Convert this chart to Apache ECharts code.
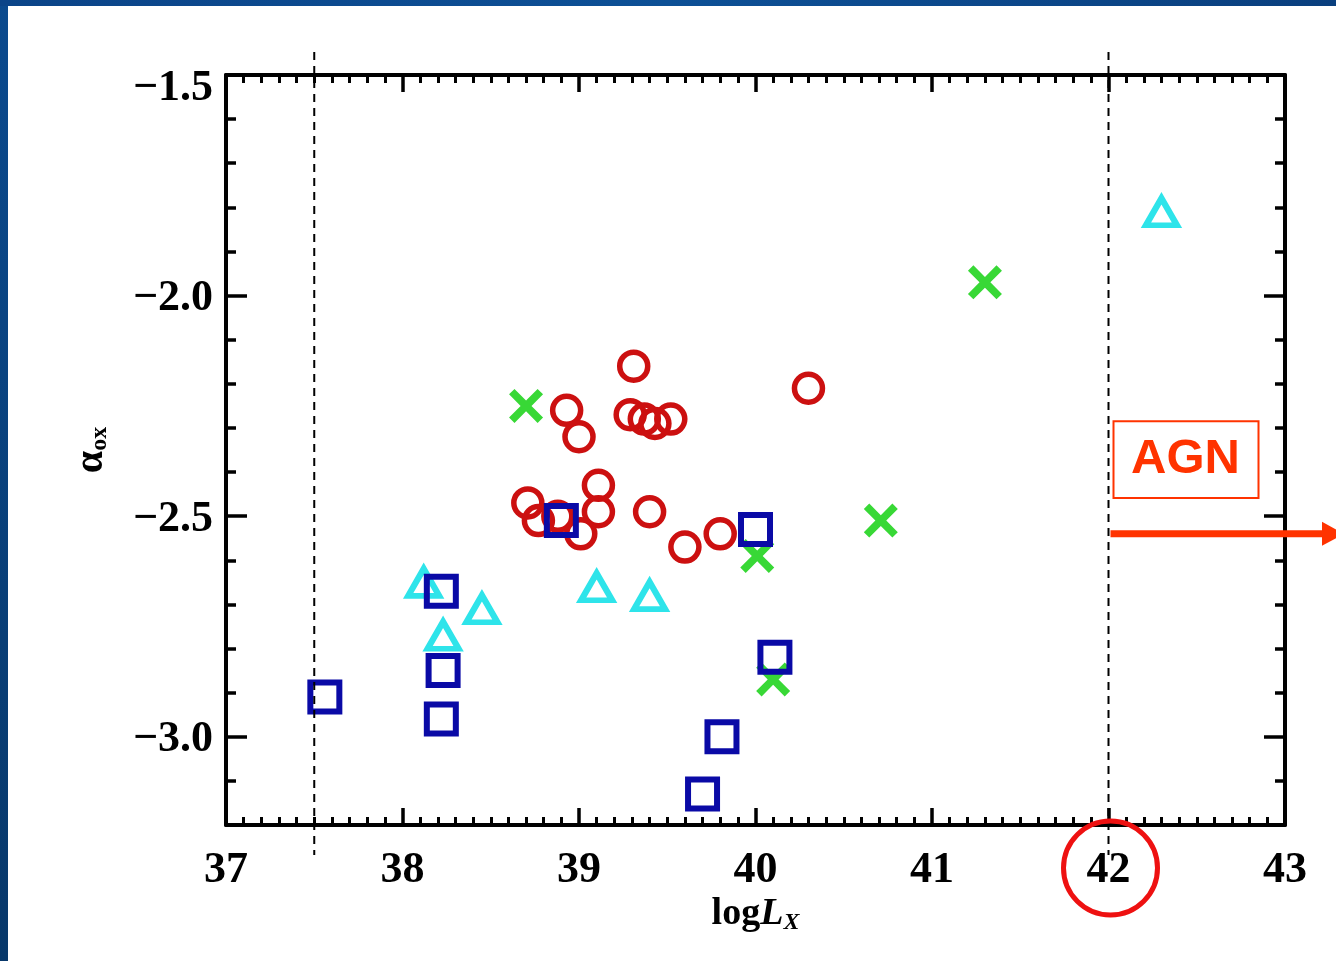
<!DOCTYPE html>
<html>
<head>
<meta charset="utf-8">
<script src="https://cdn.jsdelivr.net/npm/echarts@6.0.0/dist/echarts.min.js"></script>
<style>
html,body{margin:0;padding:0;background:#fff;}
#main{width:1336px;height:961px;}
</style>
</head>
<body>
<div id="main"></div>
<script>
/*------------数据-------------*/
// 红色空心圆
var circleX = [39.31, 40.30, 38.93, 39.00, 39.29, 39.37, 39.43, 39.52, 38.71, 38.77, 38.88, 39.11, 39.11, 39.01, 39.40, 39.60, 39.80];
var circleY = [-2.16, -2.21, -2.26, -2.32, -2.27, -2.28, -2.29, -2.28, -2.47, -2.51, -2.50, -2.43, -2.49, -2.54, -2.49, -2.57, -2.54];
// 青色三角
var triX = [42.30, 38.12, 38.45, 38.23, 39.10, 39.40];
var triY = [-1.81, -2.65, -2.71, -2.77, -2.66, -2.68];
// 绿色叉
var crossX = [38.70, 41.30, 40.71, 40.01, 40.10];
var crossY = [-2.25, -1.97, -2.51, -2.59, -2.87];
// 蓝色方块
var squareX = [37.56, 38.22, 38.23, 38.22, 38.90, 40.00, 40.11, 39.81, 39.70];
var squareY = [-2.91, -2.67, -2.85, -2.96, -2.51, -2.53, -2.82, -3.00, -3.13];

var yMajor = [-3.0, -2.5, -2.0, -1.5];
var dashX = [37.5, 42];      // 虚线位置
var agnLimit = 42;           // AGN 分界
var arrowY = -2.54;          // 箭头高度

function pairs(xs, ys){
	return xs.map(function(x, i){ return [x, ys[i]]; });
}

var FONT = 'Liberation Serif';
var CROSS = 'path://M0,1.6L1.6,0L5,3.4L8.4,0L10,1.6L6.6,5L10,8.4L8.4,10L5,6.6L1.6,10L0,8.4L3.4,5Z';

function xAxisBase(pos, showLabel){
	return {
		type:'value', position:pos, min:37, max:43, interval:1,
		axisLine:{show:true, onZero:false, lineStyle:{color:'#000', width:4}},
		axisTick:{inside:true, length:17, lineStyle:{color:'#000', width:3.5}},
		minorTick:{show:true, splitNumber:10, length:8, lineStyle:{color:'#000', width:3}},
		splitLine:{show:false},
		axisLabel:{show:showLabel, margin:24, color:'#000', fontFamily:FONT, fontWeight:'bold', fontSize:44},
	};
}
function yMinorAxis(pos, showLine){
	return {
		type:'value', position:pos, min:-3.2, max:-1.5, interval:0.1,
		axisLine:{show:showLine, onZero:false, lineStyle:{color:'#000', width:4}},
		axisTick:{inside:true, length:10, lineStyle:{color:'#000', width:3.5}},
		splitLine:{show:false},
		axisLabel:{show:false},
	};
}
function yMajorAxis(pos){
	return {
		type:'value', position:pos, min:-3.2, max:-1.5, interval:0.1,
		axisLine:{show:false, onZero:false},
		axisTick:{inside:true, length:21, customValues:yMajor, lineStyle:{color:'#000', width:3.5}},
		splitLine:{show:false},
		axisLabel:{show:false},
	};
}

var xBottom = xAxisBase('bottom', true);
xBottom.name = '{a|log}{b|L}{c|X}';
xBottom.nameLocation = 'middle';
xBottom.nameGap = 68;
xBottom.nameMoveOverlap = false;
xBottom.nameTextStyle = {
	rich:{
		a:{fontFamily:FONT, fontWeight:'bold', fontSize:38, color:'#000'},
		b:{fontFamily:FONT, fontWeight:'bold', fontStyle:'italic', fontSize:38, color:'#000'},
		c:{fontFamily:FONT, fontWeight:'bold', fontStyle:'italic', fontSize:24, color:'#000', verticalAlign:'bottom', padding:[18,0,0,0]},
	}
};

var yLeft = yMinorAxis('left', true);
yLeft.axisLabel = {
	show:true, customValues:yMajor, margin:13,
	formatter:function(v){
		var s = (v < 0 ? '\u2212' : '') + Math.abs(v).toFixed(1);
		return v > -1.6 ? '{t|' + s + '}' : '{n|' + s + '}';
	},
	rich:{
		n:{fontFamily:FONT, fontWeight:'bold', fontSize:44, color:'#000', padding:[6,0,0,0]},
		t:{fontFamily:FONT, fontWeight:'bold', fontSize:44, color:'#000', padding:[28,0,0,0]},
	}
};
yLeft.name = '{a|\u03b1}{b|ox}';
yLeft.nameLocation = 'middle';
yLeft.nameRotate = 90;
yLeft.nameGap = 114;
yLeft.nameMoveOverlap = false;
yLeft.nameTextStyle = {
	rich:{
		a:{fontFamily:FONT, fontWeight:'bold', fontSize:40, color:'#000'},
		b:{fontFamily:FONT, fontWeight:'bold', fontSize:24, color:'#000', verticalAlign:'bottom', padding:[16,0,0,0]},
	}
};

var chart = echarts.init(document.getElementById('main'));
var option = {
	backgroundColor:'#fff',
	animation:false,
	textStyle:{fontFamily:FONT},
	grid:{left:226, right:51, top:75, bottom:136, outerBoundsMode:'none'},
	xAxis:[xBottom, xAxisBase('top', false)],
	yAxis:[yLeft, yMajorAxis('left'), yMinorAxis('right', true), yMajorAxis('right')],
	series:[{
		name:'circle', type:'scatter', symbol:'circle', symbolSize:28,
		itemStyle:{color:'rgba(0,0,0,0)', borderColor:'#cc1010', borderWidth:5.5, opacity:1},
		emphasis:{disabled:true},
		data:pairs(circleX, circleY),
	},{
		name:'triangle', type:'scatter', symbol:'triangle', symbolSize:[31,27],
		itemStyle:{color:'rgba(0,0,0,0)', borderColor:'#2ee4ea', borderWidth:6, opacity:1},
		emphasis:{disabled:true},
		data:pairs(triX, triY),
	},{
		name:'cross', type:'scatter', symbol:CROSS, symbolSize:34,
		itemStyle:{color:'#38d836', opacity:1},
		emphasis:{disabled:true},
		data:pairs(crossX, crossY),
	},{
		name:'square', type:'scatter', symbol:'rect', symbolSize:29,
		itemStyle:{color:'rgba(0,0,0,0)', borderColor:'#0a0aa6', borderWidth:6, opacity:1},
		emphasis:{disabled:true},
		data:pairs(squareX, squareY),
	}]
};
chart.setOption(option);

/*------------注释图形-------------*/
function px(x, y){ return chart.convertToPixel({gridIndex:0}, [x, y]); }
var top0 = px(37, -1.5)[1], bot0 = px(37, -3.2)[1];
var graphics = [
	{type:'rect', shape:{x:0, y:0, width:8, height:961}, style:{fill:new echarts.graphic.LinearGradient(0,0,0,1,[{offset:0,color:'#0b4a8e'},{offset:1,color:'#08386a'}])}, z:100},
	{type:'rect', shape:{x:0, y:0, width:1336, height:6}, style:{fill:new echarts.graphic.LinearGradient(0,0,1,0,[{offset:0,color:'#0b4488'},{offset:0.5,color:'#0d5096'},{offset:1,color:'#0a3f7e'}])}, z:100},
];
dashX.forEach(function(x){
	var p = px(x, -1.5)[0];
	graphics.push({type:'line', shape:{x1:p, y1:top0 - 23, x2:p, y2:bot0 + 30},
		style:{stroke:'#000', lineWidth:2, lineDash:[8,6]}, z:50});
});
var agnX = px(agnLimit, -1.5)[0];
var boxTop = px(agnLimit, -2.285)[1], boxBot = px(agnLimit, -2.459)[1];
var ay = px(agnLimit, arrowY)[1];
graphics.push(
	{type:'circle', shape:{cx:agnX + 2, cy:bot0 + 43, r:47}, style:{fill:'none', stroke:'#ee1111', lineWidth:5}, z:60},
	{type:'rect', shape:{x:agnX + 5, y:boxTop, width:145, height:boxBot - boxTop}, style:{fill:'#fff', stroke:'#ff3300', lineWidth:2}, z:60},
	{type:'text', x:agnX + 5 + 72, y:(boxTop + boxBot) / 2, style:{text:'AGN', fill:'#ff3300', font:'bold 49px "Liberation Sans", Arial', align:'center', verticalAlign:'middle'}, z:61},
	{type:'line', shape:{x1:agnX + 2, y1:ay, x2:1325, y2:ay}, style:{stroke:'#ff3300', lineWidth:7}, z:60},
	{type:'polygon', shape:{points:[[1322, ay - 12], [1344, ay], [1322, ay + 12]]}, style:{fill:'#ff3300'}, z:60}
);
chart.setOption({graphic:graphics});
</script>
</body>
</html>
